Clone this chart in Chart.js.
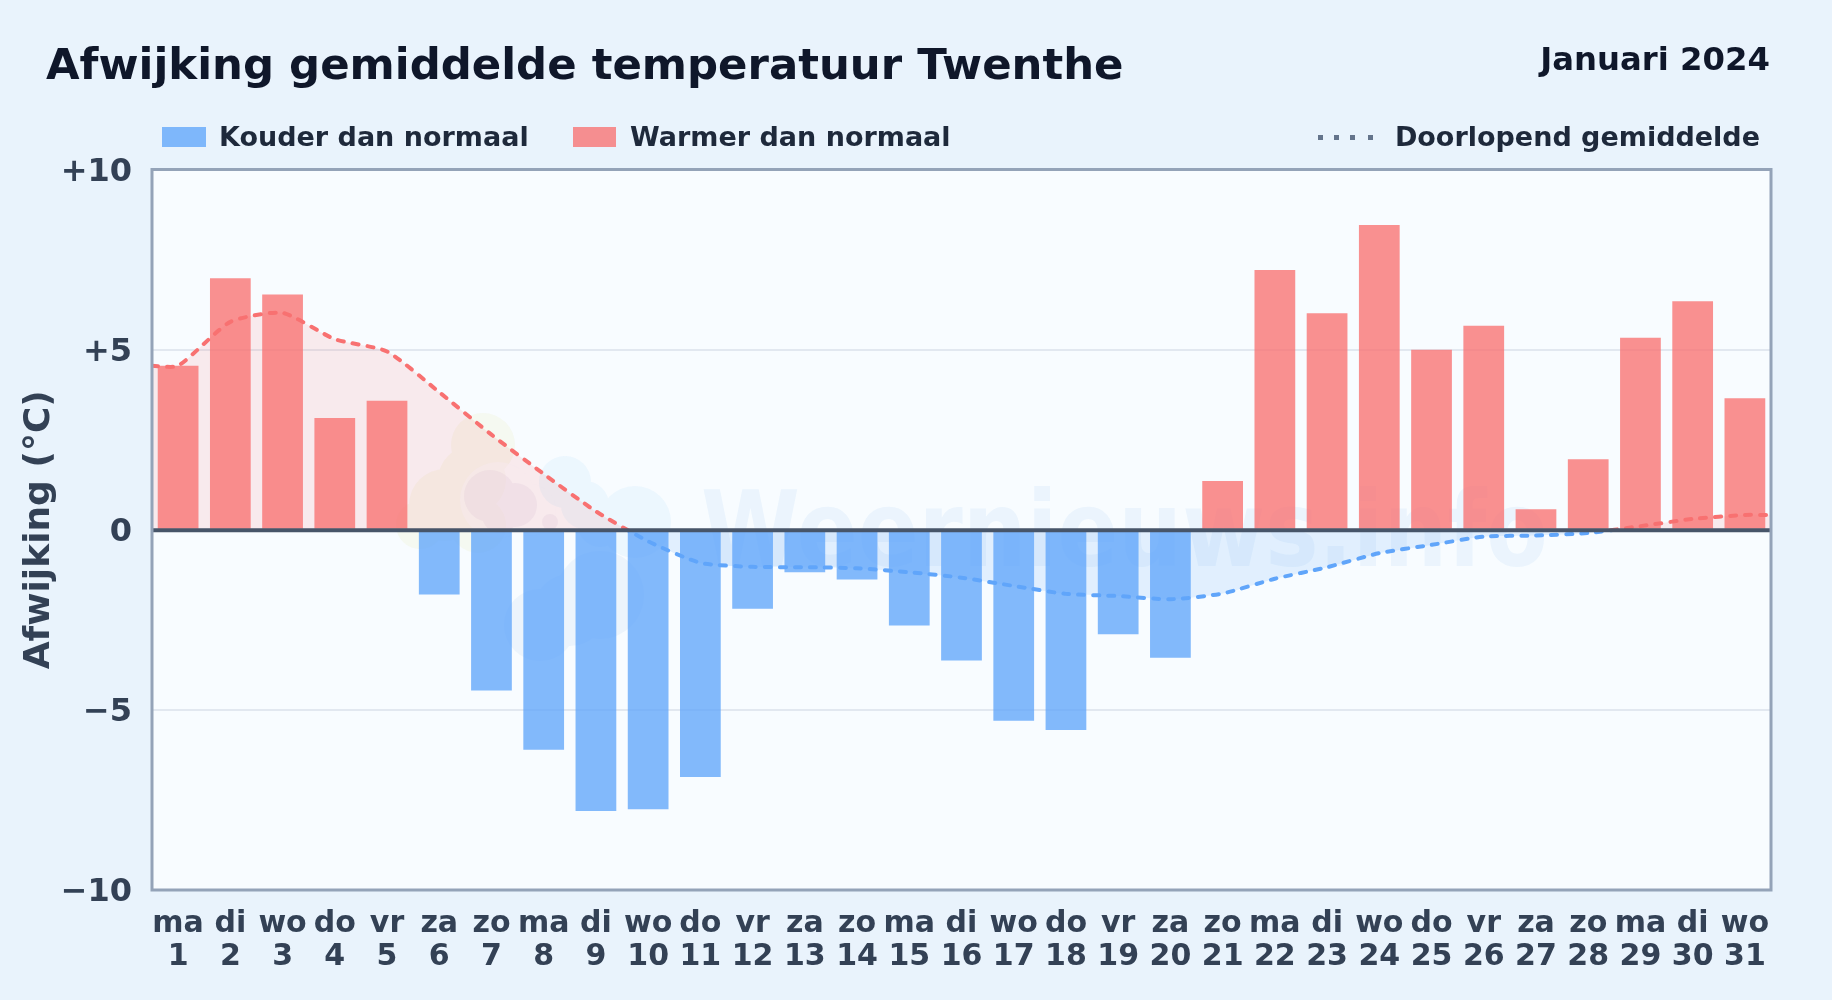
<!DOCTYPE html>
<html>
<head>
<meta charset="utf-8">
<script src="https://cdn.jsdelivr.net/npm/chart.js@4"></script>
<style>
  html, body {margin: 0; padding: 0; background: #e9f3fc;}
  canvas {display: block;}
</style>
</head>
<body>
<canvas id="afwijkingChart" width="1832" height="1000"></canvas>
<script>
const weekdays = ['ma','di','wo','do','vr','za','zo','ma','di','wo','do','vr','za','zo','ma','di','wo','do','vr','za','zo','ma','di','wo','do','vr','za','zo','ma','di','wo'];
const days = [1,2,3,4,5,6,7,8,9,10,11,12,13,14,15,16,17,18,19,20,21,22,23,24,25,26,27,28,29,30,31];
const deviation = [4.55,6.98,6.53,3.10,3.58,-1.80,-4.46,-6.11,-7.81,-7.76,-6.86,-2.19,-1.18,-1.38,-2.66,-3.63,-5.30,-5.56,-2.90,-3.55,1.35,7.21,6.01,8.46,5.00,5.66,0.57,1.96,5.33,6.34,3.65];
const runningMean = [4.55,5.77,6.02,5.29,4.95,3.82,2.64,1.55,0.51,-0.32,-0.92,-1.03,-1.04,-1.07,-1.18,-1.33,-1.56,-1.78,-1.84,-1.93,-1.77,-1.36,-1.04,-0.65,-0.42,-0.19,-0.16,-0.09,0.10,0.30,0.41];
const yTicks = {'10': '+10', '5': '+5', '0': '0', '-5': '\u22125', '-10': '\u221210'};

const RED = '248,113,113';
const BLUE = '96,165,250';
const FONT = '"DejaVu Sans"';

// the line runs on to both plot edges, so it gets its own hidden linear x axis
const meanPoints = [
  {x: 0.5, y: runningMean[0]},
  ...runningMean.map((v, i) => ({x: days[i], y: v})),
  {x: 31.5, y: runningMean[runningMean.length - 1]}
];

function splitAtZero(ctx) {
  const {chart} = ctx;
  const area = chart.chartArea;
  if (!area) return 'rgb(' + RED + ')';
  const stop = (chart.scales.y.getPixelForValue(0) - area.top) / (area.bottom - area.top);
  const g = chart.ctx.createLinearGradient(0, area.top, 0, area.bottom);
  g.addColorStop(0, 'rgb(' + RED + ')');
  g.addColorStop(stop, 'rgb(' + RED + ')');
  g.addColorStop(stop, 'rgb(' + BLUE + ')');
  g.addColorStop(1, 'rgb(' + BLUE + ')');
  return g;
}

const backdrop = {
  id: 'backdrop',
  beforeDraw(chart) {
    const c = chart.ctx, a = chart.chartArea;
    c.save();
    c.fillStyle = '#e9f3fc';
    c.fillRect(0, 0, chart.width, chart.height);
    c.fillStyle = '#f8fcff';
    c.fillRect(a.left, a.top, a.right - a.left, a.bottom - a.top);
    c.restore();
  },
  beforeDatasetsDraw(chart) {
    const c = chart.ctx;
    c.save();
    // watermark logo
    const blob = (color, circles) => {
      c.fillStyle = color;
      c.beginPath();
      circles.forEach(([x, y, r]) => {
        c.moveTo(x + r, y);
        c.arc(x, y, r, 0, Math.PI * 2);
      });
      c.fill();
    };
    blob('rgba(236,240,205,0.28)', [[483,445,32],[472,480,34],[445,505,36],[420,525,24],[478,525,28]]);
    blob('rgba(248,252,255,0.5)', [[498,500,38],[530,510,26]]);
    blob('rgba(195,180,210,0.14)', [[490,496,26],[515,505,22],[500,515,18],[550,522,8]]);
    blob('rgba(205,232,252,0.28)', [[565,482,26],[585,505,24],[635,522,36],[600,525,22]]);
    blob('rgba(190,215,240,0.2)', [[540,625,36],[600,595,44],[570,610,36]]);
    // watermark text, squeezed to the width it has in the picture
    c.fillStyle = 'rgba(147,197,240,0.13)';
    c.font = 'bold 105px ' + FONT;
    c.textAlign = 'left';
    c.textBaseline = 'alphabetic';
    c.fillText('Weernieuws.info', 701, 566, 847);
    c.restore();
  },
  afterDatasetsDraw(chart) {
    const c = chart.ctx, a = chart.chartArea, y0 = chart.scales.y.getPixelForValue(0);
    c.save();
    c.strokeStyle = '#475569';
    c.lineWidth = 4;
    c.beginPath();
    c.moveTo(a.left, y0 + 0.5);
    c.lineTo(a.right, y0 + 0.5);
    c.stroke();
    c.strokeStyle = '#94a3b8';
    c.lineWidth = 3;
    c.strokeRect(a.left, a.top, a.right - a.left, a.bottom - a.top);
    c.restore();
  },
  afterDraw(chart) {
    const c = chart.ctx, yScale = chart.scales.y;
    c.save();
    c.textBaseline = 'alphabetic';
    c.fillStyle = '#0f172a';
    c.font = 'bold 43.4px ' + FONT;
    c.textAlign = 'left';
    c.fillText('Afwijking gemiddelde temperatuur Twenthe', 46, 79);
    c.font = 'bold 32.3px ' + FONT;
    c.textAlign = 'right';
    c.fillText('Januari 2024', 1770, 70);

    c.font = 'bold 27px ' + FONT;
    c.textAlign = 'left';
    c.fillStyle = 'rgba(' + BLUE + ',0.78)';
    c.fillRect(162, 127, 44, 20);
    c.fillStyle = 'rgba(' + RED + ',0.78)';
    c.fillRect(573, 127, 43, 20);
    c.fillStyle = '#1e293b';
    c.fillText('Kouder dan normaal', 219, 146);
    c.fillText('Warmer dan normaal', 630, 146);
    c.textAlign = 'right';
    c.fillText('Doorlopend gemiddelde', 1760, 146);
    c.fillStyle = '#64748b';
    [1318, 1334, 1350, 1368].forEach(x => c.fillRect(x, 135, 5, 5));

    // y labels sit a little under their grid line, which the scale itself cannot do
    c.fillStyle = '#334155';
    c.font = 'bold 32px ' + FONT;
    c.textBaseline = 'middle';
    yScale.ticks.forEach(t => c.fillText(yTicks[t.value], 132, yScale.getPixelForValue(t.value) + 3));
    c.restore();
  }
};

new Chart(document.getElementById('afwijkingChart'), {
  data: {
    labels: weekdays.map((d, i) => [d, String(days[i])]),
    datasets: [
      {
        // area only, stays behind the bars
        type: 'line',
        label: 'Vlak',
        xAxisID: 'xLine',
        data: meanPoints,
        order: 3,
        borderWidth: 0,
        pointRadius: 0,
        tension: 0.2,
        fill: {target: {value: 0}, above: 'rgba(' + RED + ',0.13)', below: 'rgba(' + BLUE + ',0.15)'}
      },
      {
        type: 'bar',
        label: 'Afwijking',
        data: deviation,
        order: 2,
        grouped: false,
        barPercentage: 0.78,
        categoryPercentage: 1,
        backgroundColor: deviation.map(v => 'rgba(' + (v < 0 ? BLUE : RED) + ',0.78)')
      },
      {
        type: 'line',
        label: 'Doorlopend gemiddelde',
        xAxisID: 'xLine',
        data: meanPoints,
        order: 1,
        borderColor: splitAtZero,
        borderWidth: 4,
        borderDash: [6, 9],
        borderCapStyle: 'round',
        pointRadius: 0,
        tension: 0.2,
        fill: false
      }
    ]
  },
  options: {
    responsive: false,
    animation: false,
    layout: {padding: {left: 0, top: 169.5, right: 61, bottom: 0}},
    plugins: {legend: {display: false}, title: {display: false}, tooltip: {enabled: false}},
    scales: {
      x: {
        offset: true,
        grid: {display: false},
        border: {display: false},
        afterFit(s) { s.height = 110; },
        ticks: {
          autoSkip: false,
          maxRotation: 0,
          minRotation: 0,
          padding: 10,
          color: '#334155',
          font: {family: FONT, size: 30, weight: 'bold', lineHeight: 1.1}
        }
      },
      xLine: {type: 'linear', display: false, min: 0.5, max: 31.5},
      y: {
        min: -10,
        max: 10,
        afterFit(s) { s.width = 152; },
        afterBuildTicks(s) { s.ticks = Object.keys(yTicks).map(Number).sort((a, b) => b - a).map(value => ({value})); },
        border: {display: false},
        grid: {color: '#e2e8f0', lineWidth: 2, drawTicks: false},
        title: {
          display: true,
          text: 'Afwijking (\u00b0C)',
          color: '#334155',
          font: {family: FONT, size: 36, weight: 'bold'},
          padding: {top: 18, bottom: 0}
        },
        ticks: {display: false}
      }
    }
  },
  plugins: [backdrop]
});
</script>
</body>
</html>
